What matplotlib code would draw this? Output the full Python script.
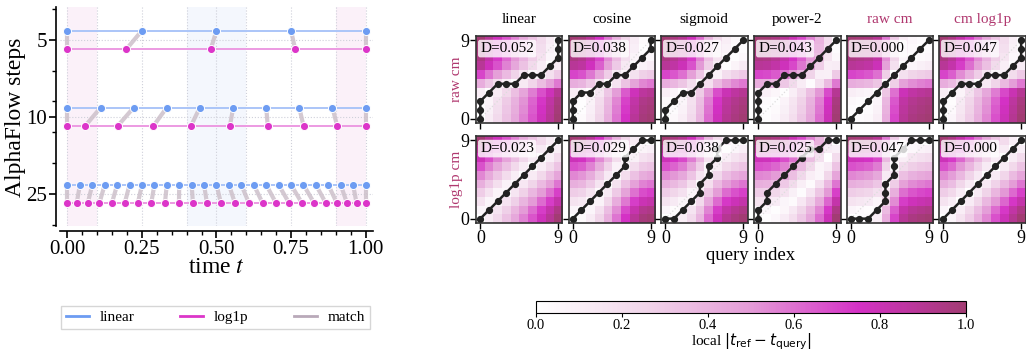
import numpy as np
import matplotlib.pyplot as plt
from matplotlib.colors import LinearSegmentedColormap

plt.rcParams['font.family'] = ['Liberation Serif', 'DejaVu Serif']
plt.rcParams['mathtext.fontset'] = 'dejavusans'
plt.rcParams['font.size'] = 10

# ---- left panel data: timesteps per schedule ----
step_labels = ['5', '10', '25']
lin_steps = {
    '5': [0.0, 0.25, 0.5, 0.75, 1.0],
    '10': [0.0, 0.111, 0.222, 0.333, 0.444, 0.556, 0.667, 0.778, 0.889, 1.0],
    '25': [0.0, 0.0417, 0.0833, 0.125, 0.1667, 0.2083, 0.25, 0.2917, 0.3333,
           0.375, 0.4167, 0.4583, 0.5, 0.5417, 0.5833, 0.625, 0.6667, 0.7083,
           0.75, 0.7917, 0.8333, 0.875, 0.9167, 0.9583, 1.0],
}
log_steps = {
    '5': [0.0, 0.198, 0.481, 0.764, 1.0],
    '10': [0.0, 0.059, 0.168, 0.288, 0.414, 0.545, 0.672, 0.792, 0.905, 1.0],
    '25': [0.0, 0.031, 0.068, 0.107, 0.149, 0.192, 0.236, 0.281, 0.327,
           0.374, 0.421, 0.468, 0.515, 0.562, 0.609, 0.655, 0.700, 0.744,
           0.787, 0.828, 0.867, 0.904, 0.938, 0.970, 1.0],
}
shade_spans = [(0.0, 0.1, '#fbf1f9'), (0.4, 0.6, '#f4f7fd'), (0.9, 1.0, '#fbf1f9')]
guide_x = [0.0, 0.1, 0.25, 0.4, 0.5, 0.6, 0.75, 0.9, 1.0]

# ---- right panel data: 10-step schedules ----
query_names = ['linear', 'cosine', 'sigmoid', 'power-2', 'raw cm', 'cm log1p']
ref_names = ['raw cm', 'log1p cm']
query_sched = {
    'linear': [0.0, 0.111, 0.222, 0.333, 0.444, 0.556, 0.667, 0.778, 0.889, 1.0],
    'cosine': [0.0, 0.030, 0.117, 0.250, 0.413, 0.587, 0.750, 0.883, 0.970, 1.0],
    'sigmoid': [0.0, 0.04, 0.10, 0.22, 0.39, 0.61, 0.78, 0.90, 0.96, 1.0],
    'power-2': [0.0, 0.012, 0.049, 0.111, 0.198, 0.309, 0.444, 0.605, 0.790, 1.0],
    'raw cm': [0.0, 0.02, 0.04, 0.10, 0.42, 0.70, 0.89, 0.95, 0.98, 1.0],
    'cm log1p': [0.0, 0.059, 0.168, 0.288, 0.414, 0.545, 0.672, 0.792, 0.905, 1.0],
}
ref_sched = {
    'raw cm': query_sched['raw cm'],
    'log1p cm': query_sched['cm log1p'],
}
dist_vals = {
    'raw cm': [0.052, 0.038, 0.027, 0.043, 0.000, 0.047],
    'log1p cm': [0.023, 0.029, 0.038, 0.025, 0.047, 0.000],
}
# alignment paths as (query index, reference index)
paths = {
    ('raw cm', 'linear'): [(0, 0), (0, 1), (0, 2), (1, 3), (2, 4), (3, 4), (4, 4), (5, 5), (6, 5), (7, 5), (8, 6), (9, 7), (9, 8), (9, 9)],
    ('raw cm', 'cosine'): [(0, 0), (0, 1), (0, 2), (1, 3), (2, 3), (3, 4), (4, 4), (5, 5), (6, 5), (7, 6), (8, 7), (9, 8), (9, 9)],
    ('raw cm', 'sigmoid'): [(0, 0), (0, 1), (1, 2), (2, 3), (3, 3), (4, 4), (5, 5), (6, 6), (7, 7), (8, 8), (9, 9)],
    ('raw cm', 'power-2'): [(0, 0), (0, 1), (0, 2), (0, 3), (1, 4), (2, 4), (3, 5), (4, 5), (5, 5), (6, 6), (7, 7), (8, 8), (9, 9)],
    ('raw cm', 'raw cm'): [(0, 0), (1, 1), (2, 2), (3, 3), (4, 4), (5, 5), (6, 6), (7, 7), (8, 8), (9, 9)],
    ('raw cm', 'cm log1p'): [(0, 0), (0, 1), (0, 2), (1, 3), (2, 4), (3, 4), (4, 4), (5, 5), (6, 5), (7, 5), (8, 6), (9, 7), (9, 8), (9, 9)],
    ('log1p cm', 'linear'): [(0, 0), (1, 1), (2, 2), (3, 3), (4, 4), (5, 5), (6, 6), (7, 7), (8, 8), (9, 9)],
    ('log1p cm', 'cosine'): [(0, 0), (1, 1), (2, 2), (3, 3), (4, 4), (5, 5), (6, 6), (6, 7), (7, 8), (8, 9), (9, 9)],
    ('log1p cm', 'sigmoid'): [(0, 0), (1, 0), (2, 1), (3, 2), (4, 3), (4, 4), (5, 5), (5, 6), (6, 7), (6, 8), (7, 9), (8, 9), (9, 9)],
    ('log1p cm', 'power-2'): [(0, 0), (0, 1), (1, 2), (1, 3), (2, 4), (3, 5), (4, 6), (5, 7), (6, 8), (7, 8), (8, 9), (9, 9)],
    ('log1p cm', 'raw cm'): [(0, 0), (1, 0), (2, 0), (3, 1), (4, 2), (4, 3), (4, 4), (5, 5), (5, 6), (5, 7), (6, 8), (7, 9), (8, 9), (9, 9)],
    ('log1p cm', 'cm log1p'): [(0, 0), (1, 1), (2, 2), (3, 3), (4, 4), (5, 5), (6, 6), (7, 7), (8, 8), (9, 9)],
}

c_lin = '#6d9cf2'
c_lin_line = '#abc5f8'
c_log = '#dc35c9'
c_log_line = '#ec9ae2'
c_match = '#cdc0ca'
c_pink = '#b0386f'

cmap = LinearSegmentedColormap.from_list(
    'pinkcm', [(0.0, '#ffffff'), (0.25, '#f1d6ea'), (0.5, '#e49bd7'),
               (0.75, '#d531c6'), (1.0, '#a23c73')])

fig = plt.figure(figsize=(10.26, 3.52), dpi=100)

# ================= left panel =================
ax = fig.add_axes([0.0585, 0.357, 0.305, 0.622])
ax.set_xlim(-0.025, 1.025)
ax.set_ylim(2.42, -0.42)
for a, b, c in shade_spans:
    ax.axvspan(a, b, color=c, zorder=0, lw=0)
for gx in guide_x:
    ax.axvline(gx, color='#cfd0da', ls=':', lw=0.8, zorder=1)
dy = 0.12
for k, s in enumerate(step_labels):
    ax.axhline(k, color='#cfd0da', ls=':', lw=0.8, zorder=1)
    lx = lin_steps[s]
    gx = log_steps[s]
    for x1, x2 in zip(lx, gx):
        ax.plot([x1, x2], [k - dy, k + dy], color=c_match, lw=3, alpha=0.85,
                solid_capstyle='butt', zorder=2)
    ax.plot(lx, [k - dy] * len(lx), color=c_lin_line, lw=1.4, zorder=3)
    ax.plot(gx, [k + dy] * len(gx), color=c_log_line, lw=1.4, zorder=3)
    ax.scatter(lx, [k - dy] * len(lx), s=34, color=c_lin, edgecolor='white',
               lw=0.7, zorder=4)
    ax.scatter(gx, [k + dy] * len(gx), s=34, color=c_log, edgecolor='white',
               lw=0.7, zorder=4)
ax.set_yticks(range(len(step_labels)))
ax.set_yticklabels(step_labels)
ax.set_yticks([-0.4, 0.4, 0.8, 1.2, 1.6, 2.4], minor=True)
ax.set_xticks([0, 0.25, 0.5, 0.75, 1.0])
ax.set_xticklabels(['0.00', '0.25', '0.50', '0.75', '1.00'])
ax.set_xticks(np.arange(0, 1.0001, 0.05), minor=True)
ax.tick_params(which='major', length=5, width=1.2, pad=1.5, labelsize=15)
ax.tick_params(which='minor', length=3, width=1.0)
ax.set_xlabel('time $t$', fontsize=17, labelpad=-1, math_fontfamily='stix')
ax.set_ylabel('AlphaFlow steps', fontsize=17)
ax.yaxis.set_label_coords(-0.108, 0.5)
for sp in ['top', 'right']:
    ax.spines[sp].set_visible(False)
for sp in ['left', 'bottom']:
    ax.spines[sp].set_linewidth(1.2)
    ax.spines[sp].set_position(('outward', 3))

h1, = ax.plot([], [], color=c_lin, lw=2)
h2, = ax.plot([], [], color=c_log, lw=2)
h3, = ax.plot([], [], color='#b9a9b9', lw=2)
fig.legend([h1, h2, h3], ['linear', 'log1p', 'match'], ncol=3,
           loc='center', bbox_to_anchor=(215.5 / 1026, 1 - 317.5 / 352),
           fontsize=11, frameon=True, fancybox=False, edgecolor='#cccccc',
           handlelength=1.5, columnspacing=3.0, borderpad=0.3,
           handletextpad=0.7)

# ================= right panel =================
x0s = [476, 568.5, 661, 754, 846.5, 939]
y0s = [36, 136]
W, H = 86.5, 87.0
FW, FH = 1026.0, 352.0
axes = {}
for r, rn in enumerate(ref_names):
    for c, qn in enumerate(query_names):
        a = fig.add_axes([x0s[c] / FW, 1 - (y0s[r] + H) / FH, W / FW, H / FH])
        axes[(r, c)] = a
        ref = np.array(ref_sched[rn])
        qry = np.array(query_sched[qn])
        cost = np.abs(ref[:, None] - qry[None, :])
        im = a.imshow(cost, origin='lower', cmap=cmap, vmin=0, vmax=1,
                      aspect='auto', interpolation='nearest')
        a.plot([0, 9], [0, 9], color='#dddddd', ls=':', lw=0.9)
        pj = [p[0] for p in paths[(rn, qn)]]
        pi = [p[1] for p in paths[(rn, qn)]]
        a.plot(pj, pi, color='#222222', lw=1.8, marker='o', ms=4.2)
        a.text(0.05, 0.93, f'D={dist_vals[rn][c]:.3f}', transform=a.transAxes,
               ha='left', va='top', fontsize=11,
               bbox=dict(boxstyle='round,pad=0.15', fc='white', ec='none',
                         alpha=0.8))
        a.set_xlim(-0.5, 9.5)
        a.set_ylim(-0.5, 9.5)
        a.set_xticks([0, 9])
        a.set_yticks([0, 9])
        a.tick_params(length=4, width=1.0, labelsize=13, pad=1)
        for sp in a.spines.values():
            sp.set_linewidth(1.2)
            sp.set_color('#333333')
        if c > 0:
            a.set_yticklabels([])
        else:
            a.set_ylabel(rn, color=c_pink, fontsize=11, labelpad=-2)
        if r == 0:
            a.set_xticklabels([])
            a.set_title(qn, fontsize=11, pad=9,
                        color=c_pink if qn in ('raw cm', 'cm log1p') else 'black')

fig.text((476 + 1025) / 2 / FW, 1 - 256 / FH, 'query index', ha='center',
         va='center', fontsize=13.5)

cax = fig.add_axes([536 / FW, 1 - 313 / FH, 430 / FW, 12 / FH])
cb = fig.colorbar(im, cax=cax, orientation='horizontal')
cb.set_ticks([0, 0.2, 0.4, 0.6, 0.8, 1.0])
cb.ax.tick_params(labelsize=10.5, length=3, pad=1)
cb.outline.set_linewidth(0.8)
cb.set_label(r'local $|t_{\mathrm{ref}} - t_{\mathrm{query}}|$', fontsize=11,
             labelpad=0)

fig.savefig('out.png', dpi=100)
